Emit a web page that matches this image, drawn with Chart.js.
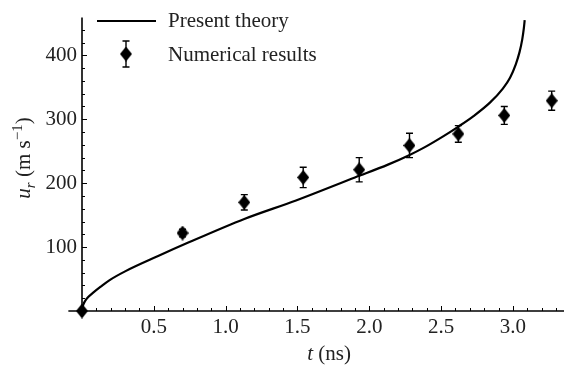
<!DOCTYPE html>
<html><head><meta charset="utf-8">
<script src="https://cdn.jsdelivr.net/npm/chart.js@4"></script>
<style>html,body{margin:0;padding:0;background:#fff}#wrap{width:564px;height:365px;position:relative}</style>
</head><body><div id="wrap"><canvas id="c"></canvas></div>
<script>
// ---- data ----
const theoryT = [0, 0.001, 0.003, 0.01, 0.02, 0.04, 0.08, 0.13, 0.19, 0.30, 0.53, 0.74, 1.13, 1.49, 1.90, 2.13, 2.27, 2.384, 2.52, 2.61, 2.726, 2.84, 2.93, 2.98, 3.02, 3.046, 3.065, 3.076, 3.082];
const theoryU = [0, 3, 5.5, 10.5, 15, 21, 29, 38, 48, 62, 86, 107, 144, 173, 209, 229, 243, 256, 274, 287, 305, 326, 348, 365, 386, 405, 425, 442, 455];
const numT   = [0, 0.70, 1.13, 1.54, 1.93, 2.28, 2.62, 2.94, 3.27];
const numU   = [0, 122, 170, 209, 221, 259, 277, 306, 329];
const numErr = [0, 6, 12, 16, 19, 19, 13, 14, 15];
const xTickValues = [0.5, 1.0, 1.5, 2.0, 2.5, 3.0];
const xTickLabels = ['0.5', '1.0', '1.5', '2.0', '2.5', '3.0'];
const yTickValues = [100, 200, 300, 400];
const yTickLabels = ['100', '200', '300', '400'];
const seriesNames = ['Present theory', 'Numerical results'];

// ---- styling ----
const FONT = "'Liberation Serif','Times New Roman',serif";
const FS = 21;
Chart.defaults.font.family = FONT;
Chart.defaults.font.size = FS;
Chart.defaults.color = '#222';

function makeDiamond(w, h) {
  const c = document.createElement('canvas');
  c.width = w; c.height = h;
  const g = c.getContext('2d');
  g.fillStyle = '#000';
  g.beginPath();
  g.moveTo(w / 2, 0); g.lineTo(w, h / 2); g.lineTo(w / 2, h); g.lineTo(0, h / 2);
  g.closePath(); g.fill();
  return c;
}
const diamondImg = makeDiamond(12, 15);

const axesPlugin = {
  id: 'axesDeco',
  beforeDatasetsDraw(chart) {
    const ctx = chart.ctx, xs = chart.scales.x, ys = chart.scales.y;
    const x0 = xs.getPixelForValue(0), y0 = ys.getPixelForValue(0);
    ctx.save();
    ctx.strokeStyle = '#000';
    ctx.lineWidth = 1.6;
    ctx.beginPath();
    ctx.moveTo(xs.getPixelForValue(-0.095), y0); ctx.lineTo(chart.width, y0);
    ctx.moveTo(x0, y0); ctx.lineTo(x0, ys.getPixelForValue(ys.max));
    ctx.stroke();
    ctx.lineWidth = 1;
    ctx.beginPath();
    for (let i = 1; i <= 33; i++) {
      const v = i / 10, px = Math.round(xs.getPixelForValue(v)) + 0.5;
      const len = (i % 5 === 0) ? 5 : 3;
      ctx.moveTo(px, y0); ctx.lineTo(px, y0 - len);
    }
    for (let i = 1; i <= 22; i++) {
      const v = i * 20, py = Math.round(ys.getPixelForValue(v)) + 0.5;
      const len = (i % 5 === 0) ? 5 : 3;
      ctx.moveTo(x0, py); ctx.lineTo(x0 + len, py);
    }
    ctx.stroke();
    // error bars
    ctx.lineWidth = 1.4;
    ctx.beginPath();
    numT.forEach((t, i) => {
      if (!numErr[i]) return;
      const px = xs.getPixelForValue(t);
      const pt = ys.getPixelForValue(numU[i] + numErr[i]);
      const pb = ys.getPixelForValue(numU[i] - numErr[i]);
      ctx.moveTo(px, pt); ctx.lineTo(px, pb);
      ctx.moveTo(px - 3.5, pt); ctx.lineTo(px + 3.5, pt);
      ctx.moveTo(px - 3.5, pb); ctx.lineTo(px + 3.5, pb);
    });
    ctx.stroke();
    ctx.restore();
  },
  afterDraw(chart) {
    const ctx = chart.ctx;
    ctx.save();
    ctx.fillStyle = '#222';
    ctx.textBaseline = 'alphabetic';
    // x title: t (ns)
    const it = 'italic ' + FS + 'px ' + FONT, nm = FS + 'px ' + FONT;
    ctx.font = it; const wT = ctx.measureText('t').width;
    ctx.font = nm; const wR = ctx.measureText(' (ns)').width;
    let xx = 329 - (wT + wR) / 2;
    ctx.font = it; ctx.fillText('t', xx, 360);
    ctx.font = nm; ctx.fillText(' (ns)', xx + wT, 360);
    // y title: u_r (m s^-1)
    const sm = 15;
    const parts = [
      { s: 'u', f: it, dy: 0 },
      { s: 'r', f: 'italic ' + sm + 'px ' + FONT, dy: 5 },
      { s: ' (m s', f: nm, dy: 0 },
      { s: '\u22121', f: sm + 'px ' + FONT, dy: -8 },
      { s: ')', f: nm, dy: 0 }
    ];
    let tot = 0;
    parts.forEach(p => { ctx.font = p.f; p.w = ctx.measureText(p.s).width; tot += p.w; });
    ctx.translate(30, 158);
    ctx.rotate(-Math.PI / 2);
    let cx = -tot / 2;
    parts.forEach(p => { ctx.font = p.f; ctx.fillText(p.s, cx, p.dy); cx += p.w; });
    ctx.setTransform(1, 0, 0, 1, 0, 0);
    // legend
    ctx.strokeStyle = '#000';
    ctx.lineWidth = 2;
    ctx.beginPath(); ctx.moveTo(97, 21); ctx.lineTo(156, 21); ctx.stroke();
    ctx.lineWidth = 1.4;
    ctx.beginPath();
    ctx.moveTo(126, 41); ctx.lineTo(126, 67);
    ctx.moveTo(122.5, 41); ctx.lineTo(129.5, 41);
    ctx.moveTo(122.5, 67); ctx.lineTo(129.5, 67);
    ctx.stroke();
    ctx.drawImage(diamondImg, 126 - 6, 54 - 7.5);
    ctx.font = nm;
    ctx.fillText(seriesNames[0], 168, 27);
    ctx.fillText(seriesNames[1], 168, 61);
    ctx.restore();
  }
};

const tickFont = { family: FONT, size: FS };

new Chart(document.getElementById('c'), {
  data: {
    datasets: [
      {
        type: 'line',
        label: seriesNames[0],
        data: theoryT.map((t, i) => ({ x: t, y: theoryU[i] })),
        borderColor: '#000',
        borderWidth: 2.2,
        pointRadius: 0,
        cubicInterpolationMode: 'monotone',
        fill: false,
        clip: false
      },
      {
        type: 'scatter',
        label: seriesNames[1],
        data: numT.map((t, i) => ({ x: t, y: numU[i] })),
        pointStyle: diamondImg,
        pointRadius: 7,
        backgroundColor: '#000',
        borderColor: '#000',
        clip: false
      }
    ]
  },
  options: {
    responsive: true,
    maintainAspectRatio: false,
    animation: false,
    devicePixelRatio: 1,
    layout: { padding: { left: 0, right: 0, top: 8, bottom: 0 } },
    plugins: { legend: { display: false }, tooltip: { enabled: false } },
    scales: {
      x: {
        type: 'linear', min: 0, max: 3.3,
        afterBuildTicks: s => { s.ticks = xTickValues.map(v => ({ value: v })); },
        afterFit: s => { s.height = 54; },
        ticks: { callback: (v, i) => xTickLabels[i], padding: 4, maxRotation: 0, autoSkip: false, color: '#222', font: tickFont },
        grid: { display: false, drawTicks: false },
        border: { display: false }
      },
      y: {
        type: 'linear', min: 0, max: 459,
        afterBuildTicks: s => { s.ticks = yTickValues.map(v => ({ value: v })); },
        afterFit: s => { s.width = 82; },
        ticks: { callback: (v, i) => yTickLabels[i], padding: 5, autoSkip: false, color: '#222', font: tickFont },
        grid: { display: false, drawTicks: false },
        border: { display: false }
      }
    }
  },
  plugins: [axesPlugin]
});
</script>
</body></html>
